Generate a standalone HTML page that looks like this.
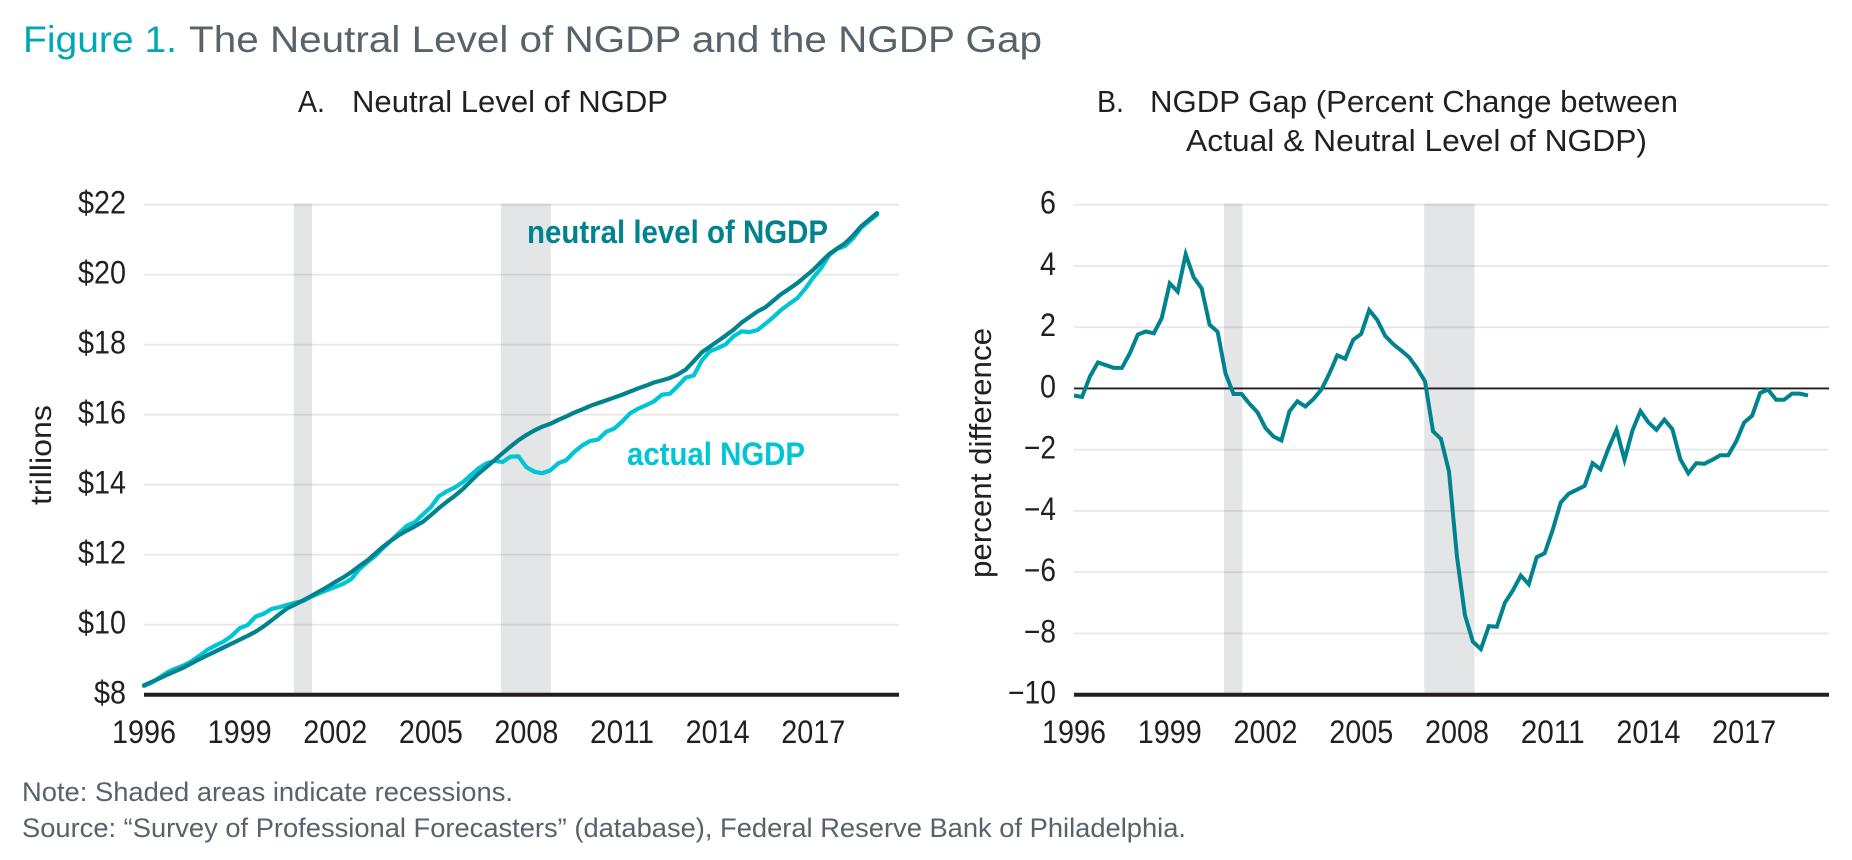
<!DOCTYPE html>
<html lang="en">
<head>
<meta charset="utf-8">
<title>Figure 1. The Neutral Level of NGDP and the NGDP Gap</title>
<style>
html,body{margin:0;padding:0;background:#fff;width:1852px;height:860px;overflow:hidden}
svg{display:block}
text{font-family:"Liberation Sans",sans-serif}
</style>
</head>
<body>
<svg id="figure" xmlns="http://www.w3.org/2000/svg" width="1852" height="860" viewBox="0 0 1852 860">
  <rect x="0" y="0" width="1852" height="860" fill="#ffffff"/>
  <text x="23" y="52" font-size="37" fill="#00a7b5" textLength="154" lengthAdjust="spacingAndGlyphs">Figure 1.</text>
  <text x="189" y="52" font-size="37" fill="#57626b" textLength="853" lengthAdjust="spacingAndGlyphs">The Neutral Level of NGDP and the NGDP Gap</text>
  <text x="298" y="112" font-size="31" fill="#231f20" textLength="27" lengthAdjust="spacingAndGlyphs">A.</text>
  <text x="352" y="112" font-size="31" fill="#231f20" textLength="316" lengthAdjust="spacingAndGlyphs">Neutral Level of NGDP</text>
  <text x="1097" y="112" font-size="31" fill="#231f20" textLength="27" lengthAdjust="spacingAndGlyphs">B.</text>
  <text x="1150" y="112" font-size="31" fill="#231f20" textLength="528" lengthAdjust="spacingAndGlyphs">NGDP Gap (Percent Change between</text>
  <text x="1186" y="151" font-size="31" fill="#231f20" textLength="461" lengthAdjust="spacingAndGlyphs">Actual &amp; Neutral Level of NGDP)</text>
  <g id="chart-a"></g>
  <g id="chart-b"></g>
  <text transform="translate(51,505) rotate(-90)" font-size="30" fill="#231f20" textLength="100" lengthAdjust="spacingAndGlyphs">trillions</text>
  <text transform="translate(991,578) rotate(-90)" font-size="31" fill="#231f20" textLength="250" lengthAdjust="spacingAndGlyphs">percent difference</text>
  <text x="527" y="243" font-size="32" font-weight="bold" fill="#00838f" textLength="301" lengthAdjust="spacingAndGlyphs">neutral level of NGDP</text>
  <text x="627" y="465" font-size="32" font-weight="bold" fill="#00c5d4" textLength="178" lengthAdjust="spacingAndGlyphs">actual NGDP</text>
  <text x="22" y="801" font-size="27" fill="#58626b" textLength="491" lengthAdjust="spacingAndGlyphs">Note: Shaded areas indicate recessions.</text>
  <text x="22" y="837" font-size="27" fill="#58626b" textLength="1164" lengthAdjust="spacingAndGlyphs">Source: “Survey of Professional Forecasters” (database), Federal Reserve Bank of Philadelphia.</text>
</svg>
<script>
const xTickLabels = ["1996","1999","2002","2005","2008","2011","2014","2017"];
const quartersPerXTick = 12;
const yTicksA = [8,10,12,14,16,18,20,22];
const yTicksB = [-10,-8,-6,-4,-2,0,2,4,6];
const recessionsA = [[18.8,21.1],[44.8,51.05]];
const recessionsB = [[18.8,21.1],[43.9,50.2]];
const neutralLevel = [8.27,8.37,8.47,8.58,8.68,8.78,8.9,9.02,9.13,9.24,9.35,9.46,9.57,9.68,9.8,9.95,10.12,10.3,10.47,10.58,10.7,10.82,10.95,11.08,11.22,11.35,11.5,11.67,11.83,12.03,12.23,12.4,12.56,12.69,12.81,12.94,13.13,13.33,13.51,13.68,13.87,14.1,14.32,14.51,14.7,14.9,15.09,15.27,15.42,15.55,15.66,15.74,15.85,15.95,16.06,16.15,16.25,16.33,16.41,16.49,16.57,16.66,16.75,16.83,16.92,16.98,17.05,17.15,17.29,17.53,17.78,17.94,18.1,18.26,18.43,18.63,18.79,18.95,19.07,19.26,19.45,19.6,19.76,19.95,20.14,20.37,20.59,20.75,20.9,21.12,21.38,21.57,21.76];
const actualNgdp = [8.25,8.35,8.5,8.65,8.75,8.84,8.96,9.12,9.29,9.41,9.52,9.68,9.9,9.99,10.23,10.31,10.45,10.5,10.57,10.63,10.68,10.8,10.9,10.99,11.08,11.17,11.3,11.58,11.78,11.96,12.19,12.4,12.62,12.83,12.93,13.15,13.36,13.67,13.81,13.92,14.07,14.27,14.47,14.61,14.68,14.65,14.8,14.81,14.5,14.37,14.33,14.41,14.61,14.7,14.94,15.12,15.25,15.29,15.51,15.6,15.8,16.04,16.17,16.27,16.38,16.57,16.6,16.82,17.06,17.12,17.54,17.81,17.9,18.01,18.24,18.38,18.36,18.42,18.6,18.79,19,19.17,19.33,19.6,19.92,20.19,20.56,20.74,20.82,21.04,21.34,21.53,21.71];
const ngdpGap = [-0.23,-0.28,0.39,0.85,0.76,0.67,0.67,1.15,1.76,1.86,1.8,2.3,3.43,3.16,4.38,3.63,3.27,2.08,1.85,0.48,-0.18,-0.18,-0.5,-0.78,-1.29,-1.57,-1.7,-0.75,-0.42,-0.59,-0.35,-0.04,0.48,1.08,0.97,1.59,1.78,2.56,2.24,1.72,1.45,1.24,1.02,0.66,0.23,-1.4,-1.65,-2.71,-5.49,-7.4,-8.27,-8.51,-7.76,-7.78,-7,-6.6,-6.11,-6.39,-5.51,-5.38,-4.62,-3.73,-3.44,-3.31,-3.18,-2.44,-2.64,-1.95,-1.35,-2.33,-1.37,-0.74,-1.11,-1.35,-1.02,-1.33,-2.31,-2.77,-2.44,-2.46,-2.33,-2.18,-2.18,-1.73,-1.11,-0.89,-0.15,-0.04,-0.37,-0.37,-0.17,-0.17,-0.23];

const NS = "http://www.w3.org/2000/svg";
const FIRST_INDEX = 0;
const LAST_INDEX = 92;

function make(parent, tag) {
  const el = document.createElementNS(NS, tag);
  parent.appendChild(el);
  return el;
}

function linePath(values, xFn, yFn) {
  return values.map(function (v, i) {
    return (i === 0 ? "M" : "L") + xFn(i).toFixed(2) + " " + yFn(v).toFixed(2);
  }).join(" ");
}

function drawFrame(group, cfg) {
  cfg.recessions.forEach(function (r) {
    const shade = make(group, "rect");
    
    
    shade.setAttribute("x", cfg.x(r[0]));
    shade.setAttribute("y", cfg.top - 1);
    shade.setAttribute("width", cfg.x(r[1]) - cfg.x(r[0]));
    shade.setAttribute("height", cfg.bottom - cfg.top + 1);
    shade.setAttribute("fill", "#e4e5e7");
  });
  cfg.ticks.forEach(function (t) {
    if (t !== cfg.baseline) {
      const grid = make(group, "line");
      
      
      grid.setAttribute("x1", cfg.left);
      grid.setAttribute("x2", cfg.right);
      grid.setAttribute("y1", cfg.y(t));
      grid.setAttribute("y2", cfg.y(t));
      grid.setAttribute("stroke", "#231f20");
      grid.setAttribute("stroke-opacity", "0.1");
      grid.setAttribute("stroke-width", "1.8");
    }
    const label = make(group, "text");
    const labelText = cfg.format(t);
    
    
    label.setAttribute("x", cfg.tickRight);
    label.setAttribute("y", cfg.y(t) + 9);
    label.setAttribute("text-anchor", "end");
    label.setAttribute("font-size", "32");
    label.setAttribute("fill", "#231f20");
    label.setAttribute("textLength", labelText.length * 16);
    label.setAttribute("lengthAdjust", "spacingAndGlyphs");
    label.textContent = labelText;
  });
  xTickLabels.forEach(function (t, k) {
    const label = make(group, "text");
    
    
    label.setAttribute("x", cfg.x(k * quartersPerXTick));
    label.setAttribute("y", 743);
    label.setAttribute("text-anchor", "middle");
    label.setAttribute("font-size", "32");
    label.setAttribute("fill", "#231f20");
    label.setAttribute("textLength", t.length * 16);
    label.setAttribute("lengthAdjust", "spacingAndGlyphs");
    label.textContent = t;
  });
}

function drawAxis(group, cfg) {
  const axis = make(group, "line");
  
  
  axis.setAttribute("x1", cfg.left);
  axis.setAttribute("x2", cfg.right);
  axis.setAttribute("y1", cfg.bottom);
  axis.setAttribute("y2", cfg.bottom);
  axis.setAttribute("stroke", "#231f20");
  axis.setAttribute("stroke-width", "4");
}

function linearScale(d0, d1, r0, r1) {
  return function (v) { return r0 + (v - d0) * (r1 - r0) / (d1 - d0); };
}

/* Panel A */
const cfgA = {
  left: 144, right: 899, top: 204.7, bottom: 694.7, tickRight: 126,
  ticks: yTicksA, recessions: recessionsA, baseline: 8,
  x: linearScale(FIRST_INDEX, LAST_INDEX, 144, 877),
  y: linearScale(8, 22, 694.7, 204.7),
  format: function (t) { return "$" + t; }
};
const groupA = document.getElementById("chart-a");
drawFrame(groupA, cfgA);
drawAxis(groupA, cfgA);

const actualLine = make(groupA, "path");


actualLine.setAttribute("d", linePath(actualNgdp, cfgA.x, cfgA.y));
actualLine.setAttribute("fill", "none");
actualLine.setAttribute("stroke", "#00c5d4");
actualLine.setAttribute("stroke-width", "4.2");
actualLine.setAttribute("stroke-linejoin", "round");
actualLine.setAttribute("stroke-linecap", "round");

const neutralLine = make(groupA, "path");


neutralLine.setAttribute("d", linePath(neutralLevel, cfgA.x, cfgA.y));
neutralLine.setAttribute("fill", "none");
neutralLine.setAttribute("stroke", "#00838f");
neutralLine.setAttribute("stroke-width", "4.2");
neutralLine.setAttribute("stroke-linejoin", "round");
neutralLine.setAttribute("stroke-linecap", "round");

/* Panel B */
const cfgB = {
  left: 1074, right: 1829, top: 204.7, bottom: 694.7, tickRight: 1056,
  ticks: yTicksB, recessions: recessionsB, baseline: -10,
  x: linearScale(FIRST_INDEX, LAST_INDEX, 1074, 1808),
  y: linearScale(-10, 6, 694.7, 204.7),
  format: function (t) { return t < 0 ? "\u2212" + Math.abs(t) : String(t); }
};
const groupB = document.getElementById("chart-b");
drawFrame(groupB, cfgB);
drawAxis(groupB, cfgB);

const zeroLine = make(groupB, "line");


zeroLine.setAttribute("x1", cfgB.left);
zeroLine.setAttribute("x2", cfgB.right);
zeroLine.setAttribute("y1", cfgB.y(0));
zeroLine.setAttribute("y2", cfgB.y(0));
zeroLine.setAttribute("stroke", "#231f20");
zeroLine.setAttribute("stroke-width", "1.8");

const gapLine = make(groupB, "path");


gapLine.setAttribute("d", linePath(ngdpGap, cfgB.x, cfgB.y));
gapLine.setAttribute("fill", "none");
gapLine.setAttribute("stroke", "#00838f");
gapLine.setAttribute("stroke-width", "4");
gapLine.setAttribute("stroke-linejoin", "miter");
gapLine.setAttribute("stroke-linecap", "butt");
</script>
</body>
</html>
